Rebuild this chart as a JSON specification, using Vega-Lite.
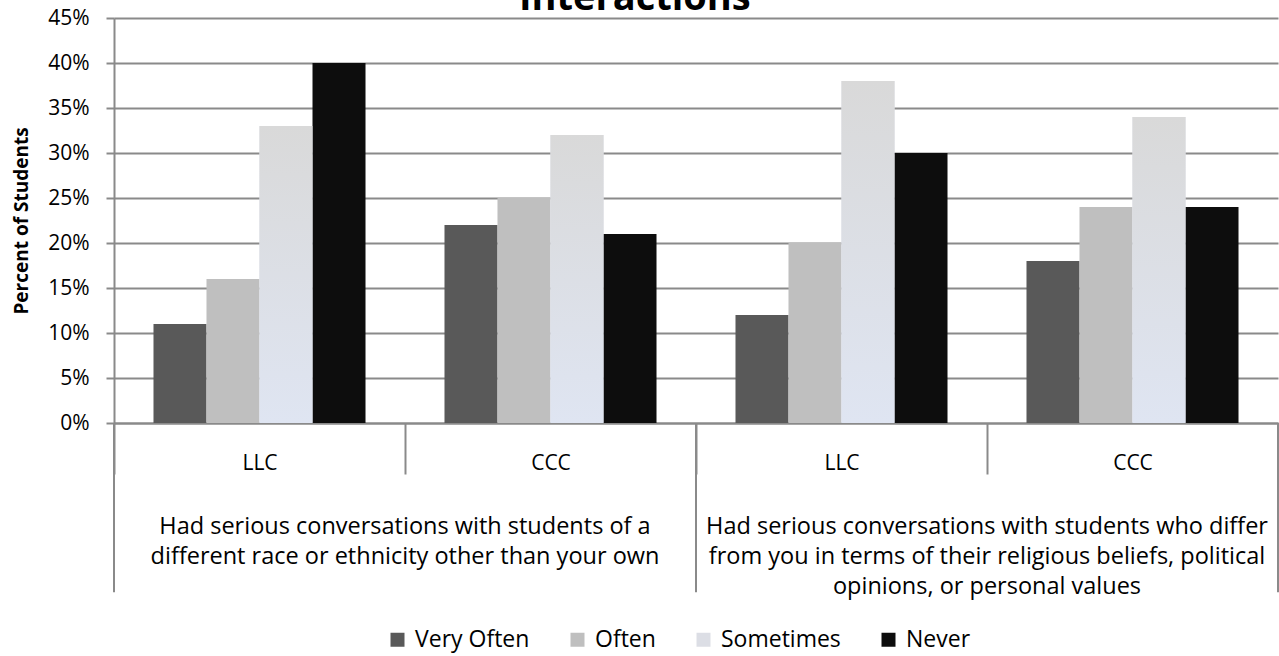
{
  "$schema": "https://vega.github.io/schema/vega-lite/v6.json",
  "padding": {"left": 12, "top": -20, "right": 0, "bottom": 4},
  "background": "white",
  "width": 1164,
  "height": 405,
  "title": {"text": "Interactions", "fontSize": 38, "font": "Open Sans", "fontWeight": "bold", "color": "black", "frame": "bounds", "anchor": "middle", "offset": -11, "dx": -11},
  "data": {"values": [
    {"question": "Had serious conversations with students of a|different race or ethnicity other than your own", "cell": "1 LLC", "program": "LLC", "response": "Very Often", "pct": 0.11},
    {"question": "Had serious conversations with students of a|different race or ethnicity other than your own", "cell": "1 LLC", "program": "LLC", "response": "Often", "pct": 0.16},
    {"question": "Had serious conversations with students of a|different race or ethnicity other than your own", "cell": "1 LLC", "program": "LLC", "response": "Sometimes", "pct": 0.33},
    {"question": "Had serious conversations with students of a|different race or ethnicity other than your own", "cell": "1 LLC", "program": "LLC", "response": "Never", "pct": 0.40},
    {"question": "Had serious conversations with students of a|different race or ethnicity other than your own", "cell": "1 CCC", "program": "CCC", "response": "Very Often", "pct": 0.22},
    {"question": "Had serious conversations with students of a|different race or ethnicity other than your own", "cell": "1 CCC", "program": "CCC", "response": "Often", "pct": 0.25},
    {"question": "Had serious conversations with students of a|different race or ethnicity other than your own", "cell": "1 CCC", "program": "CCC", "response": "Sometimes", "pct": 0.32},
    {"question": "Had serious conversations with students of a|different race or ethnicity other than your own", "cell": "1 CCC", "program": "CCC", "response": "Never", "pct": 0.21},
    {"question": "Had serious conversations with students who differ|from you in terms of their religious beliefs, political|opinions, or personal values", "cell": "2 LLC", "program": "LLC", "response": "Very Often", "pct": 0.12},
    {"question": "Had serious conversations with students who differ|from you in terms of their religious beliefs, political|opinions, or personal values", "cell": "2 LLC", "program": "LLC", "response": "Often", "pct": 0.20},
    {"question": "Had serious conversations with students who differ|from you in terms of their religious beliefs, political|opinions, or personal values", "cell": "2 LLC", "program": "LLC", "response": "Sometimes", "pct": 0.38},
    {"question": "Had serious conversations with students who differ|from you in terms of their religious beliefs, political|opinions, or personal values", "cell": "2 LLC", "program": "LLC", "response": "Never", "pct": 0.30},
    {"question": "Had serious conversations with students who differ|from you in terms of their religious beliefs, political|opinions, or personal values", "cell": "2 CCC", "program": "CCC", "response": "Very Often", "pct": 0.18},
    {"question": "Had serious conversations with students who differ|from you in terms of their religious beliefs, political|opinions, or personal values", "cell": "2 CCC", "program": "CCC", "response": "Often", "pct": 0.24},
    {"question": "Had serious conversations with students who differ|from you in terms of their religious beliefs, political|opinions, or personal values", "cell": "2 CCC", "program": "CCC", "response": "Sometimes", "pct": 0.34},
    {"question": "Had serious conversations with students who differ|from you in terms of their religious beliefs, political|opinions, or personal values", "cell": "2 CCC", "program": "CCC", "response": "Never", "pct": 0.24}
  ]},
  "layer": [
    {
      "mark": {"type": "bar"},
      "encoding": {
        "x": {"field": "cell", "type": "nominal", "sort": ["1 LLC", "1 CCC", "2 LLC", "2 CCC"], "title": null,
              "scale": {"paddingInner": 0, "paddingOuter": 0},
              "axis": {"labelExpr": "substring(datum.label, 2)", "tickBand": "extent", "tickSize": 51, "labelPadding": -22, "labelFontSize": 21, "labelColor": "black", "labelBaseline": "top", "labelAngle": 0, "tickColor": "#8a8a8a", "tickWidth": 2, "domainColor": "#8a8a8a", "domainWidth": 2, "grid": false}},
        "xOffset": {"field": "response", "type": "nominal", "sort": ["Very Often", "Often", "Sometimes", "Never"],
              "scale": {"domain": ["Very Often", "Often", "Sometimes", "Never"], "paddingOuter": 0.745, "paddingInner": 0}},
        "y": {"field": "pct", "type": "quantitative", "title": "Percent of Students",
              "scale": {"domain": [0, 0.45], "nice": false},
              "axis": {"format": ".0%", "values": [0, 0.05, 0.1, 0.15, 0.2, 0.25, 0.3, 0.35, 0.4, 0.45], "titleFontSize": 19, "titleFont": "Open Sans", "titleFontWeight": "bold", "titleColor": "black", "titlePadding": 16, "labelFontSize": 21, "labelColor": "black", "labelPadding": 17, "tickSize": 8, "tickColor": "#8a8a8a", "tickWidth": 2, "domainColor": "#8a8a8a", "domainWidth": 2, "grid": true, "gridColor": "#8a8a8a", "gridWidth": 2}},
        "color": {"field": "response", "type": "nominal", "sort": ["Very Often", "Often", "Sometimes", "Never"],
              "scale": {"domain": ["Very Often", "Often", "Sometimes", "Never"], "range": ["#595959", "#bfbfbf", "#dcdee5", "#0d0d0d"]},
              "legend": {"title": null, "orient": "none", "direction": "horizontal", "columns": 4, "legendX": 272, "legendY": 610, "symbolType": "square", "symbolSize": 196, "symbolStrokeWidth": 0, "labelFontSize": 23, "labelColor": "black", "labelOffset": 6, "columnPadding": 36}}
      }
    },
    {
      "transform": [{"filter": "datum.response == 'Sometimes'"}],
      "mark": {"type": "bar", "color": {"gradient": "linear", "x1": 0, "y1": 0, "x2": 0, "y2": 1, "stops": [{"offset": 0, "color": "#d9d9d9"}, {"offset": 1, "color": "#dfe5f2"}]}},
      "encoding": {
        "x": {"field": "cell", "type": "nominal", "sort": ["1 LLC", "1 CCC", "2 LLC", "2 CCC"], "title": null},
        "xOffset": {"field": "response", "type": "nominal", "sort": ["Very Often", "Often", "Sometimes", "Never"]},
        "y": {"field": "pct", "type": "quantitative", "title": "Percent of Students"}
      }
    },
    {
      "transform": [{"filter": "datum.program == 'LLC' && datum.response == 'Very Often'"}],
      "mark": {"type": "rule", "color": "#8a8a8a", "strokeWidth": 2},
      "encoding": {
        "x": {"field": "cell", "type": "nominal", "sort": ["1 LLC", "1 CCC", "2 LLC", "2 CCC"], "title": null, "bandPosition": 0},
        "y": {"datum": 0, "title": "Percent of Students"},
        "y2": {"datum": -0.188}
      }
    },
    {
      "transform": [{"filter": "datum.cell == '2 CCC' && datum.response == 'Very Often'"}],
      "mark": {"type": "rule", "color": "#8a8a8a", "strokeWidth": 2},
      "encoding": {
        "x": {"field": "cell", "type": "nominal", "sort": ["1 LLC", "1 CCC", "2 LLC", "2 CCC"], "title": null, "bandPosition": 1},
        "y": {"datum": 0, "title": "Percent of Students"},
        "y2": {"datum": -0.188}
      }
    },
    {
      "transform": [{"filter": "datum.program == 'LLC' && datum.response == 'Very Often'"}],
      "mark": {"type": "text", "lineBreak": "|", "lineHeight": 30, "fontSize": 23.5, "font": "Open Sans", "color": "black", "align": "center", "baseline": "top"},
      "encoding": {
        "x": {"field": "cell", "type": "nominal", "sort": ["1 LLC", "1 CCC", "2 LLC", "2 CCC"], "title": null, "bandPosition": 1},
        "y": {"datum": -0.1023, "title": "Percent of Students"},
        "text": {"field": "question"}
      }
    }
  ],
  "config": {"view": {"stroke": null}, "font": "Open Sans"}
}
